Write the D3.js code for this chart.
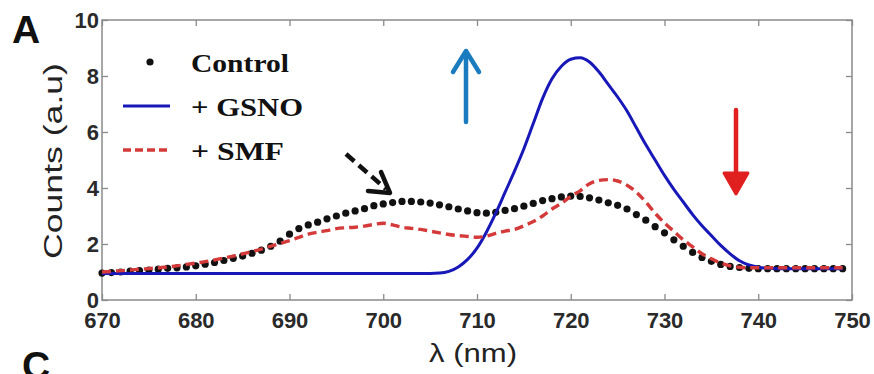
<!DOCTYPE html>
<html><head><meta charset="utf-8">
<script src="https://cdn.jsdelivr.net/npm/d3@7/dist/d3.min.js"></script>
<style>body{margin:0;background:#fff}svg{display:block}</style>
</head><body>
<svg id="c" width="874" height="374"></svg>
<script>
const wavelength = [670,671,672,673,674,675,676,677,678,679,680,681,682,683,684,685,686,687,688,689,
  690,691,692,693,694,695,696,697,698,699,700,701,702,703,704,705,706,707,708,709,
  710,711,712,713,714,715,716,717,718,719,720,721,722,723,724,725,726,727,728,729,
  730,731,732,733,734,735,736,737,738,739,740,741,742,743,744,745,746,747,748,749];
const control = [0.96,0.98,1.0,1.03,1.05,1.07,1.1,1.13,1.15,1.18,1.22,1.28,1.34,1.41,1.49,1.57,1.67,1.78,1.92,2.1,
  2.35,2.55,2.68,2.78,2.9,3.0,3.1,3.18,3.26,3.37,3.43,3.48,3.52,3.52,3.5,3.46,3.4,3.33,3.25,3.18,
  3.12,3.1,3.13,3.2,3.26,3.35,3.45,3.55,3.62,3.68,3.71,3.7,3.65,3.57,3.47,3.38,3.25,3.05,2.85,2.62,
  2.4,2.15,1.92,1.7,1.52,1.38,1.27,1.2,1.16,1.13,1.12,1.12,1.12,1.12,1.12,1.12,1.12,1.12,1.12,1.12];
const gsno = [0.95,0.95,0.95,0.95,0.95,0.95,0.95,0.95,0.95,0.95,0.95,0.95,0.95,0.95,0.95,0.95,0.95,0.95,0.95,0.95,
  0.95,0.95,0.95,0.95,0.95,0.95,0.95,0.95,0.95,0.95,0.95,0.95,0.95,0.95,0.95,0.95,0.96,1.02,1.18,1.45,
  1.85,2.42,3.1,3.85,4.6,5.4,6.3,7.2,7.9,8.35,8.6,8.65,8.5,8.15,7.7,7.25,6.75,6.15,5.55,5.0,
  4.45,3.95,3.5,3.05,2.65,2.3,1.95,1.65,1.4,1.25,1.17,1.13,1.12,1.12,1.12,1.12,1.12,1.12,1.12,1.12];
const smf = [1.0,1.02,1.05,1.07,1.1,1.12,1.15,1.18,1.22,1.27,1.32,1.37,1.43,1.5,1.57,1.65,1.73,1.82,1.92,2.02,
  2.12,2.24,2.35,2.42,2.48,2.55,2.58,2.6,2.64,2.7,2.74,2.68,2.6,2.56,2.52,2.46,2.4,2.34,2.3,2.27,
  2.24,2.28,2.38,2.46,2.52,2.65,2.8,3.0,3.25,3.45,3.7,3.9,4.15,4.27,4.3,4.25,4.1,3.85,3.5,3.1,
  2.75,2.45,2.15,1.9,1.65,1.47,1.32,1.22,1.17,1.15,1.15,1.15,1.15,1.15,1.15,1.15,1.15,1.15,1.15,1.15];
const xTicks = [670,680,690,700,710,720,730,740,750];
const yTicks = [0,2,4,6,8,10];
const legendLabels = ["Control","+ GSNO","+ SMF"];

const svg = d3.select("#c");
const x = d3.scaleLinear().domain([670,750]).range([102,852]);
const y = d3.scaleLinear().domain([0,10]).range([300,20]);
const axisColor = "#8a8a8a";

// plot box
svg.append("rect").attr("x",x(670)).attr("y",y(10)).attr("width",x(750)-x(670)).attr("height",y(0)-y(10))
  .attr("fill","none").attr("stroke",axisColor).attr("stroke-width",1.5);

function styleAxis(g){
  g.select(".domain").remove();
  g.selectAll(".tick line").attr("stroke",axisColor).attr("stroke-width",1.3);
  g.selectAll(".tick text").attr("fill","#2a2a2a").attr("font-family","Liberation Sans, Arial, sans-serif")
    .attr("font-weight","bold").attr("font-size",22);
}
svg.append("g").attr("transform",`translate(0,${y(0)})`)
  .call(d3.axisBottom(x).tickValues(xTicks).tickSizeInner(-6).tickSizeOuter(0).tickPadding(12).tickFormat(d3.format("d")))
  .call(styleAxis);
svg.append("g").attr("transform",`translate(0,${y(10)})`)
  .call(d3.axisTop(x).tickValues(xTicks).tickSizeInner(-6).tickSizeOuter(0).tickFormat(""))
  .call(styleAxis);
svg.append("g").attr("transform",`translate(${x(670)},0)`)
  .call(d3.axisLeft(y).tickValues(yTicks).tickSizeInner(-6).tickSizeOuter(0).tickPadding(3).tickFormat(d3.format("d")))
  .call(styleAxis);
svg.append("g").attr("transform",`translate(${x(750)},0)`)
  .call(d3.axisRight(y).tickValues(yTicks).tickSizeInner(-6).tickSizeOuter(0).tickFormat(""))
  .call(styleAxis);

// axis titles
svg.append("text").attr("x",473).attr("y",362).attr("text-anchor","middle")
  .attr("font-family","Liberation Sans, Arial, sans-serif").attr("font-size",25).attr("fill","#222")
  .attr("textLength",88).attr("lengthAdjust","spacingAndGlyphs").text("λ (nm)");
svg.append("text").attr("transform","translate(62,161) rotate(-90)").attr("text-anchor","middle")
  .attr("font-family","Liberation Sans, Arial, sans-serif").attr("font-size",26).attr("fill","#222")
  .attr("textLength",196).attr("lengthAdjust","spacingAndGlyphs").text("Counts (a.u)");

// panel letters
svg.append("text").attr("x",12).attr("y",43).attr("font-family","Liberation Sans, Arial, sans-serif")
  .attr("font-weight","bold").attr("font-size",39).attr("fill","#111").text("A");
svg.append("text").attr("x",22).attr("y",379).attr("font-family","Liberation Sans, Arial, sans-serif")
  .attr("font-weight","bold").attr("font-size",39).attr("fill","#111").text("C");

const pts = wavelength.map((w,i)=>({w,c:control[i],g:gsno[i],s:smf[i]}));

// control dots
svg.append("g").selectAll("circle").data(pts).join("circle")
  .attr("cx",d=>x(d.w)).attr("cy",d=>y(d.c)).attr("r",3.6).attr("fill","#111");

// GSNO line
svg.append("path").datum(pts)
  .attr("d",d3.line().x(d=>x(d.w)).y(d=>y(d.g)).curve(d3.curveMonotoneX))
  .attr("fill","none").attr("stroke","#1818b8").attr("stroke-width",3);

// SMF dashed
svg.append("path").datum(pts)
  .attr("d",d3.line().x(d=>x(d.w)).y(d=>y(d.s)).curve(d3.curveMonotoneX))
  .attr("fill","none").attr("stroke","#d43a3a").attr("stroke-width",3.4).attr("stroke-dasharray","9,5");

// legend
const lg = svg.append("g");
const legY = [62,106,150];
lg.append("circle").attr("cx",150).attr("cy",legY[0]).attr("r",3.6).attr("fill","#111");
lg.append("line").attr("x1",123).attr("x2",170).attr("y1",legY[1]).attr("y2",legY[1]).attr("stroke","#1818b8").attr("stroke-width",3.2);
lg.append("line").attr("x1",123).attr("x2",170).attr("y1",legY[2]).attr("y2",legY[2]).attr("stroke","#d43a3a").attr("stroke-width",3.4).attr("stroke-dasharray","8,4");
const legLen = [98,112,93];
legendLabels.forEach((t,i)=>{
  lg.append("text").attr("x",191).attr("y",legY[i]+10).attr("font-family","Liberation Serif, Times New Roman, serif")
    .attr("font-weight","bold").attr("font-size",26).attr("fill","#111")
    .attr("textLength",legLen[i]).attr("lengthAdjust","spacingAndGlyphs").text(t);
});

// annotation arrows
const ann = svg.append("g").attr("fill","none").attr("stroke-linecap","round").attr("stroke-linejoin","round");
ann.append("line").attr("x1",466).attr("y1",122).attr("x2",466).attr("y2",52).attr("stroke","#1a7cbf").attr("stroke-width",4.5);
ann.append("path").attr("d","M453,72 L466,51 L479,72").attr("stroke","#1a7cbf").attr("stroke-width",4.5);
ann.append("line").attr("x1",736).attr("y1",110).attr("x2",736).attr("y2",190).attr("stroke","#e01f1f").attr("stroke-width",4.5);
ann.append("path").attr("d","M724,173 L736,194 L748,173 Z").attr("stroke","#e01f1f").attr("fill","#e01f1f").attr("stroke-width",3);
ann.append("line").attr("x1",346).attr("y1",154).attr("x2",386).attr("y2",189).attr("stroke","#111").attr("stroke-width",4.5)
  .attr("stroke-dasharray","11,6").attr("stroke-linecap","butt");
ann.append("path").attr("d","M381,172 L390,193 L368,191").attr("stroke","#111").attr("stroke-width",4.5);
</script>
</body></html>
